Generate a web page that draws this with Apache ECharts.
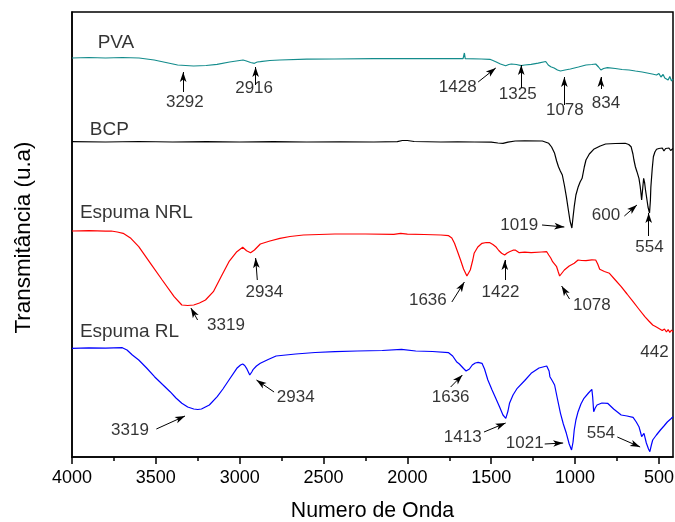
<!DOCTYPE html>
<html><head><meta charset="utf-8">
<script src="https://cdn.jsdelivr.net/npm/echarts@6/dist/echarts.min.js"></script>
<style>html,body{margin:0;padding:0;background:#fff}#c{width:675px;height:522px}</style>
</head><body><div id="c"></div><script>
// x ticks (wavenumber, cm-1)
const xMajorTicks = [4000,3500,3000,2500,2000,1500,1000,500];
const xMinorTicks = [3750,3250,2750,2250,1750,1250,750];

// spectra: [wavenumber, transmittance (a.u., stacked)]
const pva = [[4000,399],[3900,399.5],[3800,399],[3700,399.5],[3600,399],[3510,397],[3440,394.5],[3370,392],[3275,391],[3200,391.5],[3135,392.7],[3060,395],[2980,397],[2960,396],[2935,394.5],[2912,393.7],[2895,395],[2877,395.3],[2820,396.5],[2760,397],[2600,397.8],[2435,398],[2200,398.3],[2000,398.5],[1730,398.3],[1668,398.3],[1660,404],[1655,398.3],[1560,398],[1508,397.7],[1490,396.5],[1473,395.3],[1445,393],[1414,391.3],[1395,392.5],[1380,393],[1350,392.5],[1321,391.3],[1300,392],[1262,392.7],[1220,393.8],[1175,395.5],[1160,392],[1145,390.3],[1125,389],[1105,387],[1087,386],[1060,387],[1028,388],[980,390],[935,392],[900,392.5],[877,393],[860,390],[846,387],[830,388.5],[807,389.3],[760,388.5],[720,387.5],[678,387],[640,386],[600,385],[570,384],[540,383],[514,382],[500,383.5],[488,380],[475,382.5],[465,379],[455,381],[445,377],[435,380.5],[425,376],[416,378]];
const bcp = [[4000,315.3],[3800,315],[3600,315.5],[3400,315],[3200,315.3],[3000,315],[2800,315.3],[2600,315],[2400,315.2],[2200,315],[2060,315.3],[2030,316.5],[2024,317.7],[2000,316.5],[1960,315.5],[1800,315],[1700,315.2],[1600,315],[1500,314.8],[1460,314],[1430,313.7],[1400,314.8],[1357,316],[1300,316.2],[1195,316],[1157,313.7],[1140,310],[1122,303.7],[1110,296],[1099,290.3],[1088,286],[1076,282],[1064,272],[1052,260.3],[1040,247],[1030,236],[1019,229],[1012,240],[1005,250.3],[995,262],[981,270.3],[970,275],[958,278.7],[945,290],[935,297],[915,303],[889,307.7],[850,311],[818,313],[760,313.5],[701,313.7],[680,312.5],[666,310.3],[655,303],[649,297],[640,290],[631,285.3],[619,278.7],[612,271],[608,265.3],[603,257],[597,268],[591,278.7],[585,274],[580,267],[572,258],[565,250],[556,244],[551,256],[548,270],[540,288],[533,300.3],[524,305],[514,307.7],[500,308.5],[490,306.5],[480,309],[470,306],[460,308.5],[450,306.5],[440,309],[430,306.5],[416,308.5]];
const nrl = [[4000,226],[3900,226.3],[3800,225.8],[3766,226],[3730,225],[3695,223.7],[3649,218.7],[3602,210.3],[3532,193.7],[3462,177],[3391,160.3],[3345,152],[3310,151.5],[3274,152],[3240,154],[3204,157],[3157,165.3],[3111,180.3],[3064,195.3],[3017,205.3],[2982,209.7],[2959,206.3],[2935,204.3],[2912,207],[2877,213],[2820,216],[2760,218.7],[2700,220.5],[2620,222],[2432,223],[2250,223],[2081,222.7],[2040,223.7],[2000,222.8],[1900,222.5],[1800,222],[1754,221.3],[1735,219],[1719,213.7],[1700,205],[1683,197],[1665,188],[1645,181],[1625,187],[1610,197],[1602,203.7],[1580,210],[1555,213.7],[1530,214.5],[1508,214.3],[1490,212.5],[1473,210.3],[1455,206.5],[1438,203.7],[1420,202],[1405,204],[1391,205.3],[1370,206.8],[1357,207],[1333,204.3],[1300,204.8],[1262,204.3],[1200,205],[1169,205.3],[1157,202],[1145,199],[1134,195.3],[1110,190.3],[1100,185],[1092,181],[1078,184],[1064,187],[1035,191],[1005,193.7],[982,197],[960,196.5],[935,196.3],[900,197.2],[877,197],[865,193],[853,187.7],[825,185.5],[795,183.7],[760,177],[725,170.3],[690,163],[654,155.3],[620,148],[584,140.3],[560,136],[537,132],[515,130],[500,128.5],[490,130],[480,126.5],[467,128],[455,125],[445,127.5],[435,124.5],[425,127],[416,125]];
const rl = [[4000,108.7],[3900,109.2],[3800,108.8],[3700,109.3],[3695,109],[3672,107],[3640,102],[3602,97],[3555,89],[3508,80.3],[3460,72.5],[3415,65.3],[3380,59],[3345,53.7],[3310,50],[3274,48],[3250,47.5],[3228,48],[3181,52],[3134,60.3],[3100,68],[3064,77],[3017,88.7],[2995,92],[2982,93],[2970,91.5],[2959,88.7],[2940,82],[2928,85],[2919,87.7],[2900,91],[2877,93.7],[2830,97.5],[2783,101],[2666,103],[2550,104.5],[2432,105.3],[2300,106],[2150,106.5],[2035,107.7],[1950,106],[1850,105.5],[1754,104.3],[1730,101],[1707,95.3],[1690,93],[1679,92],[1665,88.5],[1650,86],[1640,85.3],[1630,88],[1613,92],[1595,94],[1578,94.7],[1555,93.7],[1540,88],[1520,77],[1495,67],[1473,58.7],[1450,50],[1430,42],[1413,38.7],[1400,46],[1391,53.7],[1370,62],[1345,68.7],[1300,76.5],[1262,83.7],[1215,89],[1169,91],[1155,86],[1150,80.3],[1135,76],[1122,72],[1105,58],[1087,43.7],[1070,33],[1052,23.7],[1035,13],[1021,7],[1012,15],[1005,27],[995,37],[982,45.3],[965,53],[947,58.7],[920,64],[900,67.7],[895,60],[889,45.3],[880,49],[869,52],[840,54],[806,53.7],[770,48],[740,44],[725,42],[690,41],[654,39.7],[635,35],[619,30.3],[610,25],[603,20.3],[596,22],[589,23.7],[575,14],[562,8],[554,5.3],[545,12],[537,17],[515,22],[491,27],[470,31],[450,35],[430,38],[416,40.3]];

// series name labels: [text, wavenumber, y]
const seriesNames = [['PVA',3847,414],['BCP',3894,327],['Espuma NRL',3953,244],['Espuma RL',3953,125]];
// peak labels: [text, wavenumber, y]
const peakLabels = [
  ['3292',3327,355],['2916',2914,369],['1428',1700,370],['1325',1342,363],['1078',1061,347],['834',816,354],
  ['1019',1333,232],['600',816,242],['554',556,210],
  ['2934',2853,165],['3319',3082,132],['1636',1878,157],['1422',1445,165],['1078',900,152],['442',526,105],
  ['3319',3654,27],['2934',2666,60],['1636',1742,60],['1413',1670,20],['1021',1300,14],['554',846,24]
];
// arrows: [fromWn, fromY, toWn, toY]
const arrows = [
  [3337,365,3337,385],[2905,372,2905,390],[1578,375,1473,389],[1321,369,1321,392],[1064,352,1064,380],[846,368,846,380],
  [1197,232,1064,230],[706,241,631,252],[561,221,561,244],
  [2895,177,2905,199],[3251,137,3291,149],[1735,155,1660,175],[1419,177,1419,197],[1033,158,1080,171],
  [3497,28,3326,41],[2795,65,2900,77],[1742,70,1672,82],[1543,25,1414,34],[1181,13,1071,14],[748,20,612,10]
];

const FONT = '"Liberation Sans", Arial, sans-serif';
const chart = echarts.init(document.getElementById('c'), null, {renderer:'canvas'});
const lineSeries = (name, data, color) => ({
  name, type:'line', data, showSymbol:false, symbol:'none', smooth:false,
  lineStyle:{color, width:1.2}, silent:true, animation:false, z:2
});
chart.setOption({
  animation:false,
  backgroundColor:'#fff',
  grid:{left:72, top:12, right:2, bottom:65, containLabel:false, outerBoundsMode:'none',
        show:true, borderColor:'#000', borderWidth:1.5, backgroundColor:'transparent'},
  xAxis:[{
    type:'value', min:416, max:4000, inverse:true,
    axisLine:{show:true, lineStyle:{color:'#000', width:1.5}},
    axisTick:{show:true, customValues:xMajorTicks, length:7, lineStyle:{color:'#000', width:1.5}},
    axisLabel:{customValues:xMajorTicks, formatter:(v)=>String(v), color:'#000', fontSize:18, fontFamily:FONT, margin:12},
    splitLine:{show:false},
    name:'Numero de Onda', nameLocation:'middle', nameGap:44,
    nameTextStyle:{color:'#000', fontSize:21.3, fontFamily:FONT}
  },{
    type:'value', min:416, max:4000, inverse:true, position:'bottom',
    axisLine:{show:false},
    axisTick:{show:true, customValues:xMinorTicks, length:4, lineStyle:{color:'#000', width:1.5}},
    axisLabel:{show:false}, splitLine:{show:false}
  }],
  yAxis:{
    type:'value', min:0, max:445,
    axisLine:{show:true, lineStyle:{color:'#000', width:1.5}},
    axisTick:{show:false}, axisLabel:{show:false}, splitLine:{show:false},
    name:'Transmitância (u.a)', nameLocation:'middle', nameGap:37,
    nameTextStyle:{color:'#000', fontSize:22.4, fontFamily:FONT, padding:[0,6,0,0]}
  },
  series:[
    lineSeries('PVA', pva, '#138c8c'),
    lineSeries('BCP', bcp, '#000000'),
    lineSeries('Espuma NRL', nrl, '#ff0000'),
    lineSeries('Espuma RL', rl, '#0000ff'),
    {
      type:'scatter', silent:true, symbolSize:0, z:5,
      data: seriesNames.map(d => ({name:d[0], value:[d[1], d[2]]})),
      label:{show:true, position:'inside', align:'left', formatter:'{b}', color:'#000', fontSize:19, fontFamily:FONT}
    },
    {
      type:'scatter', silent:true, symbolSize:0, z:5,
      data: peakLabels.map(d => ({name:d[0], value:[d[1], d[2]]})),
      label:{show:true, position:'inside', formatter:'{b}', color:'#000', fontSize:17, fontFamily:FONT},
      markLine:{
        silent:true, animation:false, symbol:['none','arrow'],
        label:{show:false}, emphasis:{disabled:true},
        lineStyle:{color:'#000', width:1, type:'solid'},
        data: arrows.map(a => [
          {coord:[a[0], a[1]], symbol:'none'},
          {coord:[a[2], a[3]], symbol:'arrow', symbolSize:[5,10]}
        ])
      }
    }
  ]
});
</script></body></html>
